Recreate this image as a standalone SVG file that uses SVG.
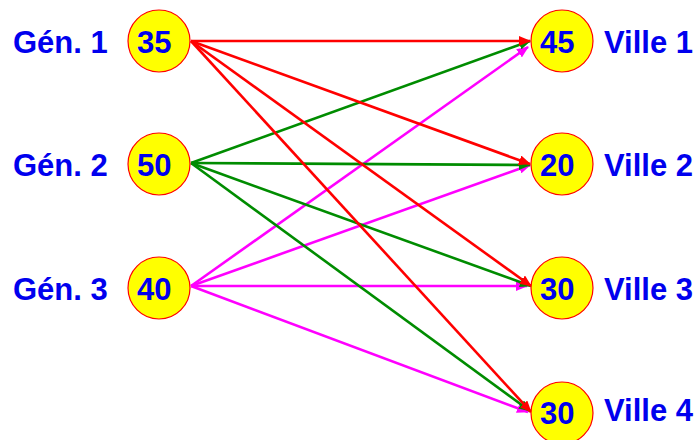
<svg xmlns="http://www.w3.org/2000/svg" width="700" height="440" viewBox="0 0 700 440">
<style>
.node{fill:#ffff00;stroke:#ff0000;stroke-width:1.2}
.t{font-family:"Liberation Sans",Arial,sans-serif;font-weight:bold;font-size:31px;fill:#0000ee}
.r{stroke:#ff0000;stroke-width:2.6;fill:none}
.g{stroke:#008c00;stroke-width:2.6;fill:none}
.m{stroke:#ff00ff;stroke-width:2.6;fill:none}
</style>
<defs>
<marker id="ar" markerUnits="userSpaceOnUse" markerWidth="12" markerHeight="10" refX="11" refY="5" orient="auto"><path d="M0,0 L12,5 L0,10 Z" fill="#ff0000"/></marker>
<marker id="ag" markerUnits="userSpaceOnUse" markerWidth="12" markerHeight="10" refX="11" refY="5" orient="auto"><path d="M0,0 L12,5 L0,10 Z" fill="#008c00"/></marker>
<marker id="am" markerUnits="userSpaceOnUse" markerWidth="12" markerHeight="10" refX="11" refY="5" orient="auto"><path d="M0,0 L12,5 L0,10 Z" fill="#ff00ff"/></marker>
</defs>
<rect width="700" height="440" fill="#ffffff"/>
<g id="connectors">
<line class="m" x1="191" y1="286" x2="528" y2="47" marker-end="url(#am)"/>
<line class="m" x1="191" y1="286" x2="530" y2="165" marker-end="url(#am)"/>
<line class="m" x1="191" y1="286" x2="527" y2="286" marker-end="url(#am)"/>
<line class="m" x1="191" y1="286" x2="528" y2="412" marker-end="url(#am)"/>
<line class="g" x1="191" y1="163" x2="530" y2="41" marker-end="url(#ag)"/>
<line class="g" x1="191" y1="163" x2="530" y2="165" marker-end="url(#ag)"/>
<line class="g" x1="191" y1="163" x2="531" y2="286" marker-end="url(#ag)"/>
<line class="g" x1="191" y1="163" x2="530" y2="411" marker-end="url(#ag)"/>
<line class="r" x1="191" y1="41" x2="530" y2="41" marker-end="url(#ar)"/>
<line class="r" x1="191" y1="41" x2="530" y2="164" marker-end="url(#ar)"/>
<line class="r" x1="191" y1="41" x2="531" y2="286" marker-end="url(#ar)"/>
<line class="r" x1="191" y1="41" x2="531" y2="412" marker-end="url(#ar)"/>
</g>
<g id="gen1"><circle class="node" cx="159" cy="41" r="31"/><text class="t" x="137" y="53">35</text><text class="t" x="13" y="53">Gén. 1</text></g>
<g id="gen2"><circle class="node" cx="159" cy="164" r="31"/><text class="t" x="137" y="176">50</text><text class="t" x="13" y="176">Gén. 2</text></g>
<g id="gen3"><circle class="node" cx="159" cy="288" r="31"/><text class="t" x="137" y="300">40</text><text class="t" x="13" y="300">Gén. 3</text></g>
<g id="ville1"><circle class="node" cx="562" cy="41" r="31"/><text class="t" x="540" y="53">45</text><text class="t" x="604" y="53">Ville 1</text></g>
<g id="ville2"><circle class="node" cx="562" cy="164" r="31"/><text class="t" x="540" y="176">20</text><text class="t" x="604" y="176">Ville 2</text></g>
<g id="ville3"><circle class="node" cx="562" cy="288" r="31"/><text class="t" x="540" y="300">30</text><text class="t" x="604" y="300">Ville 3</text></g>
<g id="ville4"><circle class="node" cx="562" cy="413" r="31"/><text class="t" x="540" y="424">30</text><text class="t" x="604" y="421">Ville 4</text></g>
</svg>
